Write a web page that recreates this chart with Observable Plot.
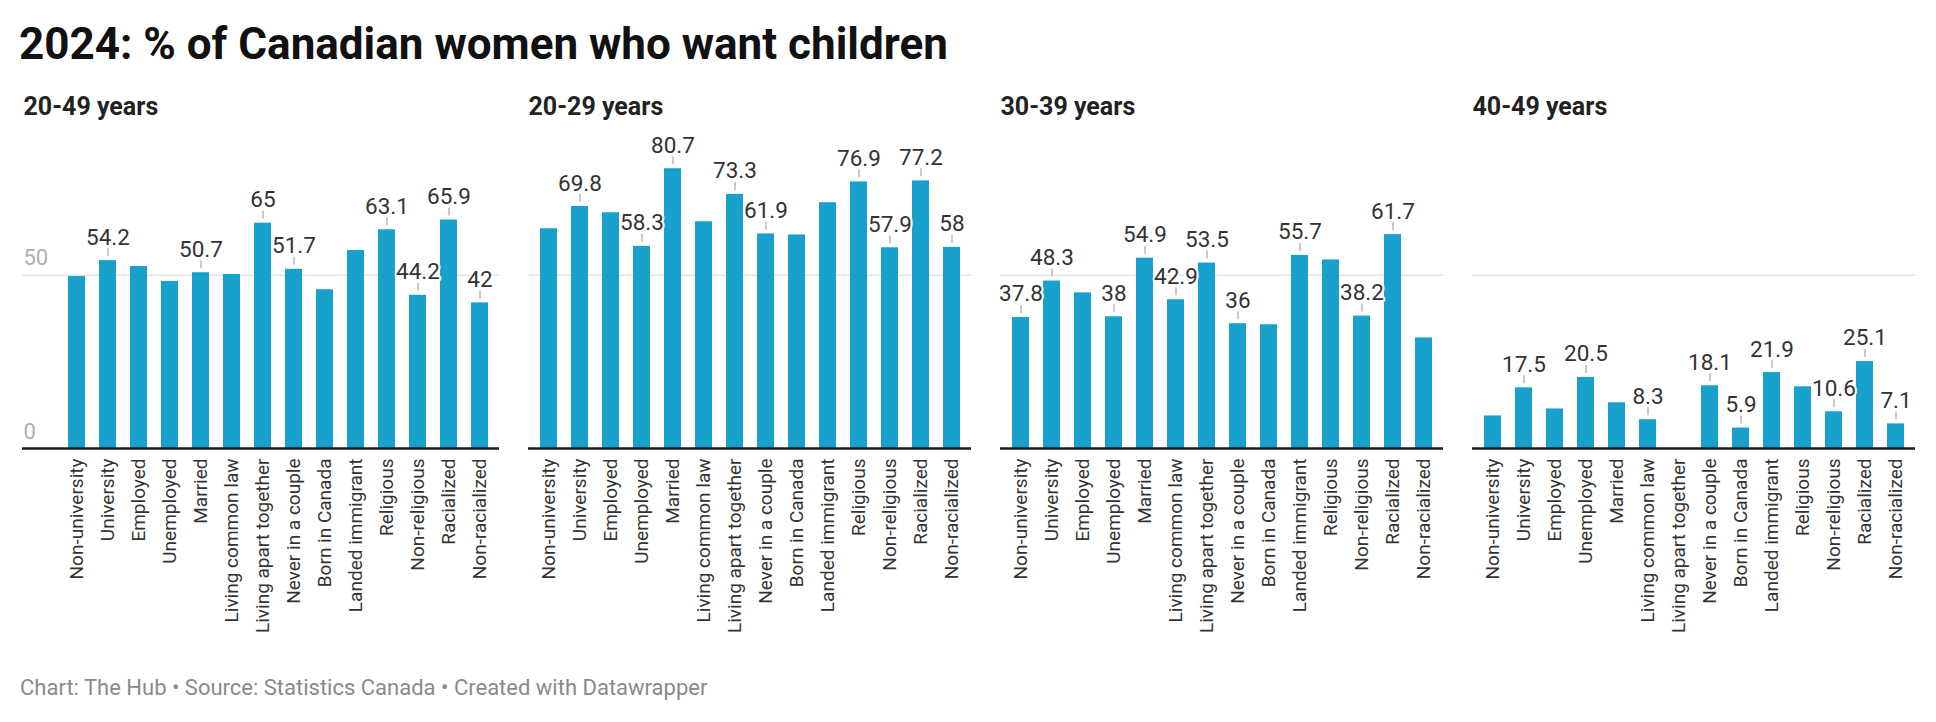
<!DOCTYPE html>
<html>
<head>
<meta charset="utf-8">
<script src="https://cdn.jsdelivr.net/npm/d3@7"></script>
<script src="https://cdn.jsdelivr.net/npm/@observablehq/plot@0.6"></script>
<style>
  html, body { margin: 0; padding: 0; background: #fff; }
  body { width: 1936px; height: 722px; overflow: hidden; position: relative; font-family: Roboto, sans-serif; }
  #title { position: absolute; left: 19px; top: 18px; font-size: 44px; font-weight: 700; line-height: 53px; color: #111; white-space: nowrap; }
  #chart { position: absolute; left: 0; top: 72px; }
  #footer { position: absolute; left: 20px; top: 675px; font-size: 22px; line-height: 26px; color: #8a8a8a; white-space: nowrap; }
</style>
</head>
<body>
<div id="title">2024: % of Canadian women who want children</div>
<div id="chart"></div>
<div id="footer">Chart: The Hub • Source: Statistics Canada • Created with Datawrapper</div>
<script>
const categories = [
  "Non-university", "University", "Employed", "Unemployed", "Married",
  "Living common law", "Living apart together", "Never in a couple",
  "Born in Canada", "Landed immigrant", "Religious", "Non-religious",
  "Racialized", "Non-racialized"
];
const panels = ["20-49 years", "20-29 years", "30-39 years", "40-49 years"];

const values2049 = [49.6, 54.2, 52.5, 48.2, 50.7, 50.2, 65, 51.7, 45.8, 57.1, 63.1, 44.2, 65.9, 42];
const values2029 = [63.4, 69.8, 68.0, 58.3, 80.7, 65.4, 73.3, 61.9, 61.6, 70.9, 76.9, 57.9, 77.2, 58];
const values3039 = [37.8, 48.3, 44.9, 38, 54.9, 42.9, 53.5, 36, 35.7, 55.7, 54.4, 38.2, 61.7, 31.9];
const values4049 = [9.4, 17.5, 11.4, 20.5, 13.2, 8.3, null, 18.1, 5.9, 21.9, 17.8, 10.6, 25.1, 7.1];

const labeled2049 = ["University", "Married", "Living apart together", "Never in a couple", "Religious", "Non-religious", "Racialized", "Non-racialized"];
const labeled2029 = ["University", "Unemployed", "Married", "Living apart together", "Never in a couple", "Religious", "Non-religious", "Racialized", "Non-racialized"];
const labeled3039 = ["Non-university", "University", "Unemployed", "Married", "Living common law", "Living apart together", "Never in a couple", "Landed immigrant", "Non-religious", "Racialized"];
const labeled4049 = ["University", "Unemployed", "Living common law", "Never in a couple", "Born in Canada", "Landed immigrant", "Non-religious", "Racialized", "Non-racialized"];

const yTicks = [0, 50];
const gridValues = [50];

const series = [values2049, values2029, values3039, values4049];
const labeledSets = [labeled2049, labeled2029, labeled3039, labeled4049];

const rows = [];
panels.forEach((p, pi) => {
  categories.forEach((c, ci) => {
    rows.push({panel: p, category: c, value: series[pi][ci], labeled: labeledSets[pi].includes(c)});
  });
});
const barRows = rows.filter(d => d.value != null);
const labelRows = barRows.filter(d => d.labeled);

const firstPanel = panels[0];
const otherPanels = panels.slice(1);
const gridFirst = gridValues.map(v => ({panel: firstPanel, v}));
const gridOthers = otherPanels.flatMap(p => gridValues.map(v => ({panel: p, v})));
const baseFirst = [{panel: firstPanel, v: 0}];
const baseOthers = otherPanels.map(p => ({panel: p, v: 0}));
const yLabelRows = yTicks.map(v => ({panel: firstPanel, v}));

const blue = "#18a1cd";

const chart = Plot.plot({
  width: 1936,
  height: 578,
  marginLeft: 54,
  marginRight: 20,
  marginTop: 64,
  marginBottom: 202,
  style: {fontFamily: "Roboto", color: "#333", background: "white", overflow: "visible"},
  fx: {domain: panels, axis: null, paddingInner: 0.062, paddingOuter: 0},
  x: {domain: categories, axis: null, paddingInner: 0.46, paddingOuter: 0.23},
  y: {domain: [0, 90], axis: null},
  marks: [
    Plot.ruleY(gridFirst, {fx: "panel", y: "v", stroke: "#e3e3e3", strokeWidth: 1.5, insetLeft: -34}),
    Plot.ruleY(gridOthers, {fx: "panel", y: "v", stroke: "#e3e3e3", strokeWidth: 1.5}),
    Plot.barY(barRows, {fx: "panel", x: "category", y: "value", fill: blue}),
    Plot.text(yLabelRows, {
      fx: "panel", y: "v", text: d => String(d.v), frameAnchor: "left",
      textAnchor: "start", lineAnchor: "bottom", dx: -33, dy: -10,
      fontSize: 22, fill: "#b0b0b0"
    }),
    Plot.ruleY(baseFirst, {fx: "panel", y: "v", stroke: "#1a1a1a", strokeWidth: 2.5, insetLeft: -34}),
    Plot.ruleY(baseOthers, {fx: "panel", y: "v", stroke: "#1a1a1a", strokeWidth: 2.5}),
    Plot.axisX({tickRotate: -90, tickSize: 0, tickPadding: 10, fontSize: 19, label: null}),
    Plot.ruleX(labelRows, {
      fx: "panel", x: "category", y1: "value", y2: "value",
      insetTop: -12, insetBottom: 4, stroke: "#b8b8b8", strokeWidth: 1.5
    }),
    Plot.text(labelRows, {
      fx: "panel", x: "category", y: "value", text: d => String(d.value),
      lineAnchor: "bottom", dy: -16, fontSize: 22.5, fill: "#333",
      stroke: "white", strokeWidth: 4
    }),
    Plot.text([{panel: firstPanel}], {
      fx: "panel", text: "panel", frameAnchor: "top-left", textAnchor: "start",
      lineAnchor: "bottom", dx: -33, dy: -22, fontSize: 25, fontWeight: 700, fill: "#222"
    }),
    Plot.text(otherPanels.map(p => ({panel: p})), {
      fx: "panel", text: "panel", frameAnchor: "top-left", textAnchor: "start",
      lineAnchor: "bottom", dx: 0, dy: -22, fontSize: 25, fontWeight: 700, fill: "#222"
    })
  ]
});
document.getElementById("chart").appendChild(chart);
</script>
</body>
</html>
